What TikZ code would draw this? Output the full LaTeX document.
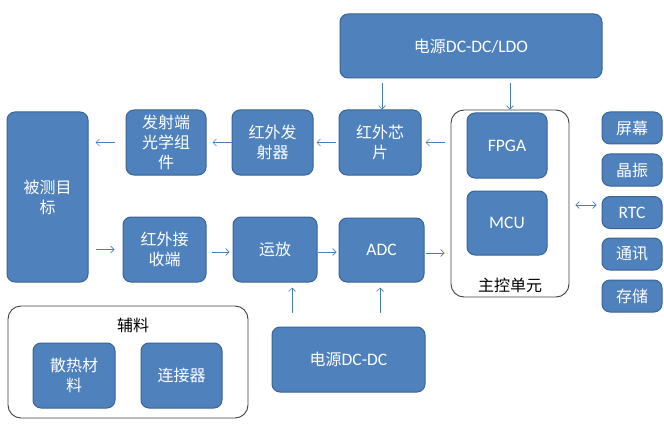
\documentclass[tikz,border=0pt]{standalone}
\usepackage{fontspec}
\setmainfont{Carlito}
\newfontfamily\cjk{Noto Sans CJK SC}
\newfontfamily\lat{Carlito}
\usetikzlibrary{arrows.meta}
\definecolor{boxfill}{HTML}{4F81BD}
\definecolor{boxline}{HTML}{3A6494}
\definecolor{arrcol}{HTML}{4A7EBB}
\definecolor{contline}{HTML}{404040}
\tikzset{
  blk/.style={draw=boxline, line width=1pt, fill=boxfill, rounded corners=8pt,
    text=white, align=center, inner sep=0pt, font=\fontsize{16}{20}\selectfont\cjk},
  cont/.style={draw=contline, line width=0.9pt, fill=white, rounded corners=13pt, inner sep=0pt},
  lbl/.style={text=black, inner sep=0pt, font=\fontsize{16}{20}\selectfont\cjk},
  arr/.style={draw=arrcol, line width=0.7pt, -{Straight Barb[length=3.5pt,width=7pt]}},
  darr/.style={draw=arrcol, line width=0.7pt, {Straight Barb[length=3.5pt,width=7pt]}-{Straight Barb[length=3.5pt,width=7pt]}}
}
\newcommand{\mybox}[7]{% name, style, cx, cy, w, h, text
  \node[#2, minimum width=#5pt, minimum height=#6pt] (#1) at (#3,#4) {#7};}
\newcommand{\latt}[1]{{\lat\fontsize{17.5}{20}\selectfont #1}}
\begin{document}
\begin{tikzpicture}[x=1pt,y=-1pt]
\useasboundingbox (0,0) rectangle (664,425);
% containers
\mybox{main}{cont}{510}{203.5}{118}{187}{}
\node[lbl] (mainlbl) at (510,285) {主控单元};
\mybox{aux}{cont}{128}{362}{240}{112}{}
\node[lbl] (auxlbl) at (133,325) {辅料};
% blocks
\mybox{pwr}{blk}{471}{46}{262}{64}{电源\latt{DC-DC/LDO}}
\mybox{chip}{blk}{380}{142.5}{82}{65}{红外芯\\片}
\mybox{adc}{blk}{381.5}{250}{85}{64}{\latt{ADC}}
\mybox{fpga}{blk}{507}{145.5}{80}{65}{\latt{FPGA}}
\mybox{mcu}{blk}{507}{223}{80}{64}{\latt{MCU}}
\mybox{scr}{blk}{632}{128}{60}{32}{屏幕}
\mybox{xtal}{blk}{632}{170}{60}{32}{晶振}
\mybox{rtc}{blk}{632}{212.5}{60}{32}{\latt{RTC}}
\mybox{com}{blk}{632}{254}{60}{32}{通讯}
\mybox{mem}{blk}{632}{296}{60}{32}{存储}
\mybox{target}{blk}{47.5}{197}{81}{170}{被测目\\标}
\mybox{optic}{blk}{166}{142.5}{80}{65}{发射端\\光学组\\件}
\mybox{emit}{blk}{272.5}{142.5}{81}{65}{红外发\\射器}
\mybox{recv}{blk}{164.5}{249.5}{83}{65}{红外接\\收端}
\mybox{amp}{blk}{275}{249.5}{84}{65}{运放}
\mybox{heat}{blk}{74}{375.5}{82}{65}{散热材\\料}
\mybox{conn}{blk}{181.5}{375.5}{81}{65}{连接器}
\mybox{pwr2}{blk}{348.5}{359.5}{153}{65}{电源\latt{DC-DC}}
% helper coordinates
\coordinate (c1) at ([xshift=2pt]chip.north);
\coordinate (a1) at ([xshift=17pt]amp.south);
\coordinate (d1) at ([xshift=-1.5pt]adc.south);
% arrows
\draw[arr, shorten <=5pt] (c1 |- pwr.south) -- (c1);
\draw[arr, shorten <=5pt] (main.north |- pwr.south) -- (main.north);
\draw[arr, shorten <=6pt, shorten >=4pt] (main.west |- chip.east) -- (chip.east);
\draw[arr, shorten <=3pt, shorten >=3pt] (chip.west) -- (chip.west -| emit.east);
\draw[arr, shorten >=6pt] (emit.west) -- (emit.west -| optic.east);
\draw[arr, shorten <=11pt, shorten >=7pt] (optic.west) -- (optic.west -| target.east);
\draw[arr, shorten <=7pt, shorten >=8pt] (recv.west -| target.east) -- (recv.west);
\draw[arr, shorten <=5pt, shorten >=3pt] ([yshift=-2.5pt]recv.east) -- ([yshift=-2.5pt]amp.west);
\draw[arr, shorten <=0pt, shorten >=2pt] ([yshift=-2.5pt]amp.east) -- ([yshift=-2.5pt]amp.east -| adc.west);
\draw[arr, shorten <=1pt, shorten >=6pt] ([yshift=-3pt]adc.east) -- ([yshift=-3pt]adc.east -| main.west);
\draw[arr, shorten <=14pt, shorten >=5pt] (a1 |- pwr2.north) -- (a1);
\draw[arr, shorten <=14pt, shorten >=5pt] (d1 |- pwr2.north) -- (d1);
\draw[darr, shorten <=6pt, shorten >=5pt] ([yshift=-1.5pt]main.east) -- ([yshift=-1.5pt]main.east -| rtc.west);
\end{tikzpicture}
\end{document}
